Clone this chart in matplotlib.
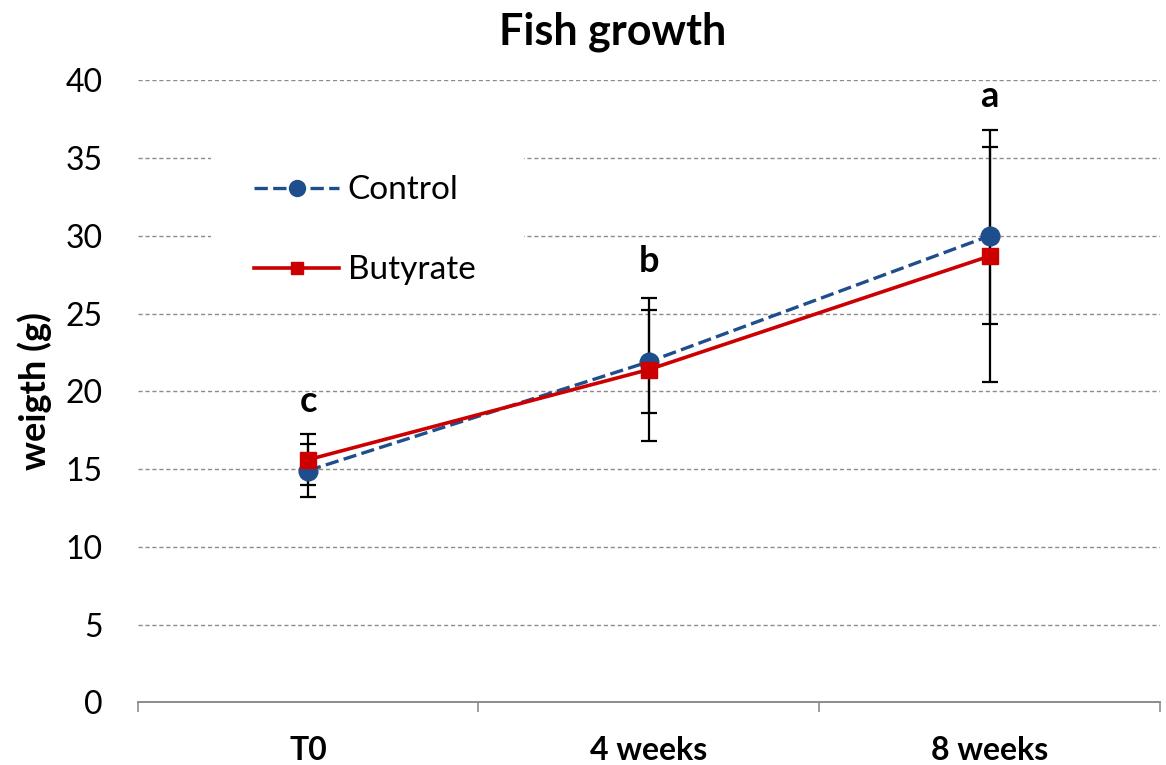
import matplotlib
matplotlib.use("Agg")
import matplotlib.pyplot as plt
from matplotlib.patches import Rectangle
import numpy as np

categories = ["T0", "4 weeks", "8 weeks"]
control = [14.9, 21.9, 30.0]
control_err = [1.7, 3.3, 5.7]
butyrate = [15.6, 21.4, 28.7]
butyrate_err = [1.65, 4.6, 8.1]
letters = ["c", "b", "a"]
letter_y = [18.3, 27.3, 37.9]
yticks = [0, 5, 10, 15, 20, 25, 30, 35, 40]

plt.rcParams['font.family'] = ['Lato', 'DejaVu Sans']

fig = plt.figure(figsize=(11.66, 7.65), dpi=100)
ax = fig.add_axes([0.118, 0.082, 0.877, 0.813])

x = np.arange(len(categories)) + 0.5

for yv in yticks[1:]:
    ax.axhline(yv, color="#8c8c8c", lw=1.0, ls=(0, (3, 2)), zorder=0)

# white legend background covering gridlines
ax.add_patch(Rectangle((0.072, 0.646), 0.306, 0.249, transform=ax.transAxes,
                       facecolor="white", edgecolor="none", zorder=0.5))

ax.errorbar(x, control, yerr=control_err, fmt="none", ecolor="black",
            elinewidth=1.6, capsize=5.5, capthick=1.6, zorder=2)
ax.errorbar(x, butyrate, yerr=butyrate_err, fmt="none", ecolor="black",
            elinewidth=1.6, capsize=5.5, capthick=1.6, zorder=2)
ax.plot(x, control, color="#1f4e8c", ls=(0, (4.0, 1.6)), lw=2.4, marker="o",
        ms=13.5, label="Control", zorder=3)
ax.plot(x, butyrate, color="#cc0000", ls="-", lw=2.6, marker="s",
        ms=11, label="Butyrate", zorder=4)

for xi, l, ly in zip(x, letters, letter_y):
    ax.text(xi, ly, l, ha="center", va="bottom", fontsize=26, fontweight="bold")

ax.set_xlim(0, 3)
ax.set_ylim(0, 40)
ax.set_yticks(yticks)
ax.set_xticks([0, 1, 2, 3])
ax.set_xticklabels([])
ax.set_xticks(x, minor=True)
ax.set_xticklabels(categories, minor=True, fontsize=23, fontweight="bold")
ax.tick_params(axis="x", which="major", length=7, color="#8c8c8c", width=1.2)
ax.tick_params(axis="x", which="minor", length=0, pad=24)
ax.tick_params(axis="y", length=0, labelsize=23, pad=25)

for s in ["top", "right", "left"]:
    ax.spines[s].set_visible(False)
ax.spines["bottom"].set_color("#8c8c8c")
ax.spines["bottom"].set_linewidth(1.4)

ax.set_ylabel("weigth (g)", fontsize=26, fontweight="bold", labelpad=10)
fig.text(0.525, 0.985, "Fish growth", fontsize=31, fontweight="bold",
         ha="center", va="top")

leg = ax.legend(loc="upper left", bbox_to_anchor=(0.098, 0.874), frameon=False,
                fontsize=24, handlelength=2.55, labelspacing=1.5,
                borderpad=0.0, handletextpad=0.25, markerscale=0.85)

fig.savefig("out.png", dpi=100)
